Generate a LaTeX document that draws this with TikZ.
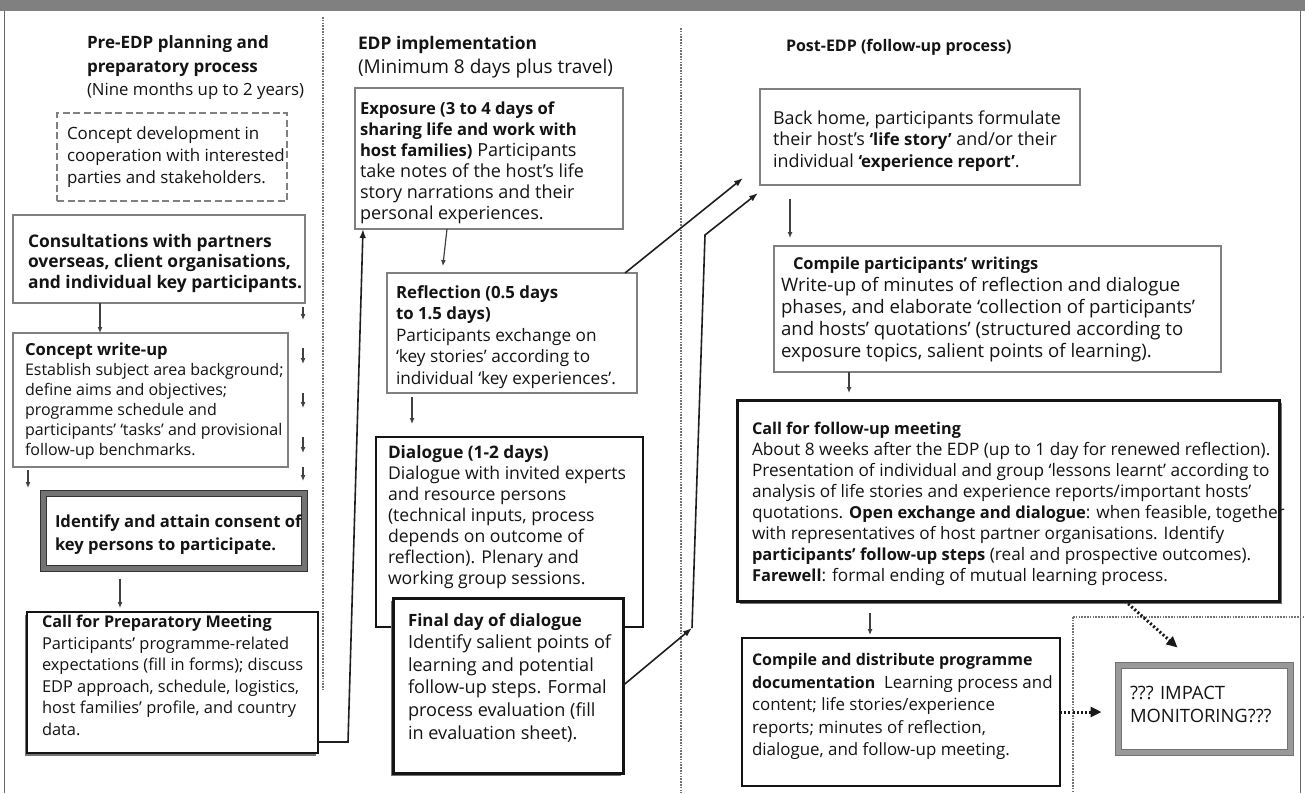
\documentclass[tikz,border=0pt]{standalone}
\usepackage{fontspec}
\setmainfont{Open Sans}
\usetikzlibrary{arrows.meta,shadows}
\newcommand\bb[2]{{\fontsize{#1}{12}\selectfont\bfseries #2}}
\begin{document}
\begin{tikzpicture}[x=1pt,y=-1pt,
  base/.style={inner sep=0pt, outer sep=0pt, anchor=north west, fill=white},
  greybox/.style={base, draw=black!50, line width=2.2pt},
  blackbox/.style={base, draw=black!92, line width=2.6pt},
  dashbox/.style={base, draw=black!50, line width=2.4pt, dash pattern=on 7pt off 3.5pt},
  dblbox/.style={base, draw=black!80, double=black!55, line width=1pt, double distance=5pt},
  dblgrey/.style={base, draw=black!55, double=black!40, line width=1pt, double distance=5pt},
  shadowbl/.style={drop shadow={shadow xshift=-2.5pt, shadow yshift=-2.5pt, fill=black!55, opacity=1}},
  shadowbr/.style={drop shadow={shadow xshift=2.5pt, shadow yshift=-2.5pt, fill=black!55, opacity=1}},
  txt/.style={anchor=base west, inner sep=0pt, outer sep=0pt, align=left, text=black!92},
  sarr/.style={draw=black!75, line width=1.2pt, -{Latex[length=6pt,width=5pt]}},
  larr/.style={draw=black!88, line width=1.6pt, -{Latex[length=9pt,width=6.5pt]}},
  dotarr/.style={draw=black!90, line width=3pt, dash pattern=on 2pt off 2.2pt, -{Triangle[length=11pt,width=10pt]}},
  divider/.style={draw=black!55, line width=2.6pt, dash pattern=on 1.5pt off 1.3pt},
]
\useasboundingbox (0,0) rectangle (1305,793);
\fill[white] (0,0) rectangle (1305,793);
% top band and frame
\fill[black!50] (0,0) rectangle (1305,11);
\draw[black!60, line width=1pt] (4,11) -- (4,793);
\draw[black!60, line width=1pt] (1300,11) -- (1300,793);

% column dividers
\draw[divider] (323,17) -- (323,690);
\draw[divider] (681,28) -- (681,793);
\draw[divider] (1073,617) -- (1073,793);
\draw[divider] (1073,617) -- (1305,617);

% headers (anchor = baseline of last line)
\node[txt, font=\fontsize{16.8}{23.5}\selectfont] (hpre) at (87,95.5)
  {\bb{17}{Pre-EDP planning and}\\\bb{17}{preparatory process}\\(Nine months up to 2 years)};
\node[txt, font=\fontsize{19}{24}\selectfont] (hedp) at (358,73)
  {\bb{17.4}{EDP implementation}\\(Minimum 8 days plus travel)};
\node[txt, font=\fontsize{16}{20}\selectfont] (hpost) at (786,51) {\bb{16}{Post-EDP (follow-up process)}};

% ---------- left column ----------
\node[dashbox, minimum width=230pt, minimum height=88pt] (cdev) at (57,113) {};
\node[txt, font=\fontsize{16.9}{22}\selectfont] (tcdev) at (67,183.6)
  {Concept development in\\cooperation with interested\\parties and stakeholders.};

\node[greybox, minimum width=292pt, minimum height=88pt] (cons) at (13,215) {};
\node[txt, font=\fontsize{17}{20.5}\selectfont] (tcons) at (28,288)
  {\bb{17.4}{Consultations with partners}\\\bb{17.4}{overseas, client organisations,}\\\bb{17.4}{and individual key participants.}};

\node[greybox, minimum width=275pt, minimum height=134pt] (cwu) at (13,333) {};
\node[txt, font=\fontsize{16}{20}\selectfont] (tcwu) at (25,455)
  {\bb{16.6}{Concept write-up}\\Establish subject area background;\\define aims and objectives;\\programme schedule and\\participants’ ‘tasks’ and provisional\\follow-up benchmarks.};

\node[dblbox, minimum width=261pt, minimum height=75pt] (ident) at (43.5,493.5) {};
\node[txt, font=\fontsize{16.6}{23}\selectfont] (tident) at (55,550.5)
  {\bb{16.6}{Identify and attain consent of}\\\bb{16.6}{key persons to participate.}};

\node[blackbox, shadowbl, minimum width=291pt, minimum height=141pt] (prep) at (27,612) {};
\node[txt, font=\fontsize{16.4}{21.6}\selectfont] (tprep) at (42,735.5)
  {\bb{16.2}{Call for Preparatory Meeting}\\Participants’ programme-related\\expectations (fill in forms); discuss\\EDP approach, schedule, logistics,\\host families’ profile, and country\\data.};

% ---------- middle column ----------
\node[greybox, minimum width=268pt, minimum height=141pt] (exp) at (355,88) {};
\node[txt, font=\fontsize{18}{21}\selectfont] (texp) at (360,219)
  {\bb{16.6}{Exposure (3 to 4 days of}\\\bb{16.6}{sharing life and work with}\\\bb{16.6}{host families)} Participants\\take notes of the host’s life\\story narrations and their\\personal experiences.};

\node[greybox, minimum width=250pt, minimum height=120pt] (refl) at (387,273) {};
\node[txt, font=\fontsize{17.2}{21.5}\selectfont] (trefl) at (396,384)
  {\bb{16.8}{Reflection (0.5 days}\\\bb{16.8}{to 1.5 days)}\\Participants exchange on\\‘key stories’ according to\\individual ‘key experiences’.};

\node[blackbox, minimum width=267pt, minimum height=190pt] (dial) at (376,437) {};
\node[txt, font=\fontsize{17.6}{21}\selectfont] (tdial) at (388,584)
  {\bb{17.2}{Dialogue (1-2 days)}\\Dialogue with invited experts\\and resource persons\\(technical inputs, process\\depends on outcome of\\reflection). Plenary and\\working group sessions.};

\node[blackbox, shadowbl, line width=3pt, minimum width=230pt, minimum height=175pt] (final) at (393,598) {};
\node[txt, font=\fontsize{18.1}{22.6}\selectfont] (tfinal) at (408,739)
  {\bb{16.9}{Final day of dialogue}\\Identify salient points of\\learning and potential\\follow-up steps. Formal\\process evaluation (fill\\in evaluation sheet).};

% ---------- right column ----------
\node[greybox, minimum width=320pt, minimum height=96pt] (back) at (760,89) {};
\node[txt, font=\fontsize{17.9}{21.5}\selectfont] (tback) at (773,167)
  {Back home, participants formulate\\their host’s \bb{16.8}{‘life story’} and/or their\\individual \bb{16.8}{‘experience report’}.};

\node[greybox, minimum width=447pt, minimum height=126pt] (cpw) at (774,246) {};
\node[txt, font=\fontsize{18.6}{22}\selectfont] (tcpw) at (781,357)
  {\hspace*{12pt}\bb{16.4}{Compile participants’ writings}\\Write-up of minutes of reflection and dialogue\\phases, and elaborate ‘collection of participants’\\and hosts’ quotations’ (structured according to\\exposure topics, salient points of learning).};

\node[blackbox, shadowbr, line width=3pt, minimum width=542pt, minimum height=201pt] (fol) at (737,400) {};
\node[txt, font=\fontsize{17.2}{21}\selectfont] (tfol) at (752,581)
  {\bb{16.2}{Call for follow-up meeting}\\About 8 weeks after the EDP (up to 1 day for renewed reflection).\\Presentation of individual and group ‘lessons learnt’ according to\\analysis of life stories and experience reports/important hosts’\\quotations. \bb{16.5}{Open exchange and dialogue}: when feasible, together\\with representatives of host partner organisations. Identify\\\bb{16.5}{participants’ follow-up steps} (real and prospective outcomes).\\\bb{16.5}{Farewell}: formal ending of mutual learning process.};

\node[blackbox, minimum width=318pt, minimum height=148pt] (cdist) at (742,638) {};
\node[txt, font=\fontsize{16.9}{22.5}\selectfont] (tcdist) at (752,755.5)
  {\bb{16}{Compile and distribute programme}\\\bb{16}{documentation}\ \ Learning process and\\content; life stories/experience\\reports; minutes of reflection,\\dialogue, and follow-up meeting.};

\node[dblgrey, minimum width=172pt, minimum height=87pt] (impact) at (1118.5,665.5) {};
\node[txt, font=\fontsize{18.4}{23}\selectfont] (timpact) at (1130,722)
  {??? IMPACT\\MONITORING???};

% ---------- connectors ----------
\draw[sarr] ([xshift=87pt]cons.south west) -- ([xshift=87pt]cons.south west |- cwu.north);

\coordinate (r1a) at (303,307); \coordinate (r1b) at (303,320);
\coordinate (r2a) at (303,348); \coordinate (r2b) at (303,364);
\coordinate (r3a) at (303,393); \coordinate (r3b) at (303,408);
\coordinate (r4a) at (303,437); \coordinate (r4b) at (303,453);
\coordinate (r5a) at (303,467); \coordinate (r5b) at (303,481);
\coordinate (l1a) at (28,470);  \coordinate (l1b) at (28,488);
\draw[sarr] (r1a) -- (r1b);
\draw[sarr] (r2a) -- (r2b);
\draw[sarr] (r3a) -- (r3b);
\draw[sarr] (r4a) -- (r4b);
\draw[sarr] (r5a) -- (r5b);
\draw[sarr] (l1a) -- (l1b);

\draw[sarr, shorten <=10pt, shorten >=4pt] ([xshift=76.5pt]ident.south west) -- ([xshift=76.5pt]ident.south west |- prep.north);

\draw[larr] ([yshift=11pt]prep.south east) -- ++(30,0) -- ([xshift=8pt]exp.south west);
\draw[sarr, shorten >=7pt] ([xshift=92pt]exp.south west) -- ([xshift=55pt]refl.north west);
\draw[sarr, shorten <=4pt, shorten >=13pt] ([xshift=25pt]refl.south west) -- ([xshift=25pt]refl.south west |- dial.north);
\draw[larr] ([xshift=-12pt]refl.north east) -- ([xshift=-17pt,yshift=7pt]back.south west);

\coordinate (j1) at (692,628);
\draw[larr] (final.east) -- (j1);
\draw[larr] (j1) -- (705,235) -- ([xshift=-2pt,yshift=-8pt]back.south west);

\draw[sarr, shorten <=14pt, shorten >=8pt] ([xshift=30pt]back.south west) -- ([xshift=30pt]back.south west |- cpw.north);
\draw[sarr, shorten >=7pt] ([xshift=75pt]cpw.south west) -- ([xshift=75pt]cpw.south west |- fol.north);
\draw[sarr, shorten <=12pt, shorten >=3pt] ([xshift=133pt]fol.south west) -- ([xshift=133pt]fol.south west |- cdist.north);

\draw[dotarr] ([xshift=-154pt]fol.south east) -- ([xshift=59pt,yshift=18pt]impact.north west);
\draw[dotarr, shorten >=17pt] (cdist.east) -- (cdist.east -| impact.west);
\end{tikzpicture}
\end{document}
